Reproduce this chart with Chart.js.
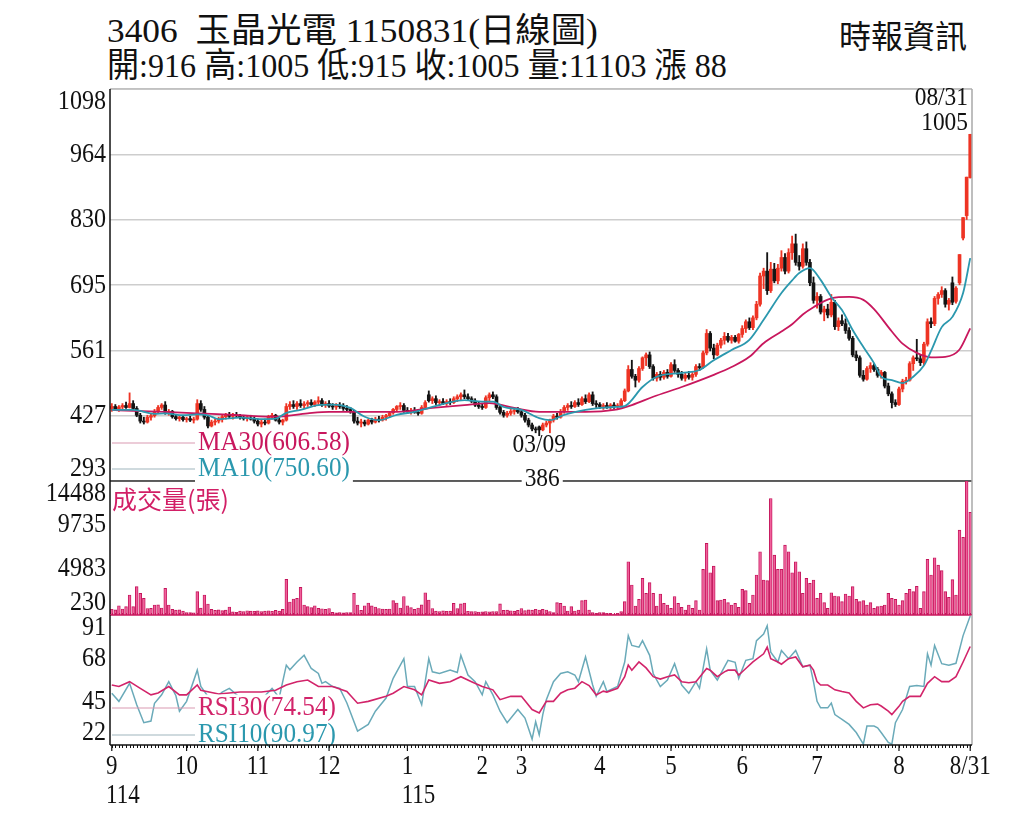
<!DOCTYPE html>
<html>
<head>
<meta charset="utf-8">
<script src="https://cdn.jsdelivr.net/npm/chart.js@4.4.1/dist/chart.umd.min.js"></script>
<style>
html, body { margin: 0; padding: 0; background: #fff; }
#wrap { position: relative; width: 1024px; height: 819px; overflow: hidden; background: #fff; }
canvas { position: absolute; left: 0; top: 0; }
.t { position: absolute; white-space: pre; font-family: "Liberation Serif", "Noto Sans CJK TC", serif; color: #111; transform-origin: 0 0; line-height: 1; }
</style>
</head>
<body>
<div id="wrap">
  <div class="t" id="t1" style="left:107px;top:14px;font-size:34px">3406  玉晶光電 1150831(日線圖)</div>
  <div class="t" id="t2" style="left:107px;top:49px;font-size:34px">開:916 高:1005 低:915 收:1005 量:11103 漲 88</div>
  <div class="t" id="t3" style="left:839px;top:21px;font-size:32px">時報資訊</div>
  <canvas id="cPrice" width="1024" height="819"></canvas>
  <canvas id="cVol" width="1024" height="819"></canvas>
  <canvas id="cRsi" width="1024" height="819"></canvas>
</div>
<script>
// daily candles, 114/09/01 .. 115/08/31 (index = trading day)
const openP = [
  442,446,440,445,448,444,452,442,428,416, 414,424,427,436,444,449,434,436,425,421,
  424,419,421,418,420,452,440,424,406,414, 416,420,425,428,426,429,427,423,421,422,
  420,416,410,414,412,424,428,418,414,418, 446,450,446,452,448,451,454,450,455,458,
  449,452,447,445,448,446,442,440,436,416, 412,414,410,418,414,420,418,424,427,433,
  440,446,448,438,436,438,434,432,444,470, 458,462,454,456,452,456,454,462,466,470,
  466,462,457,449,446,444,464,470,466,444, 434,428,432,436,438,435,428,418,408,400,
  404,398,408,412,418,426,424,436,444,448, 446,454,450,462,456,470,452,450,446,448,
  445,449,446,448,458,478,522,508,500,524, 546,552,528,504,512,506,516,508,532,520,
  512,504,510,506,512,528,526,556,596,566, 552,572,582,590,582,588,580,594,606,620,
  608,628,656,714,724,684,728,704,730,752, 724,762,780,742,734,770,742,700,664,672,
  640,646,634,660,610,622,616,602,586,552, 546,510,502,524,530,522,510,516,488,472,
  454,450,482,498,500,534,546,544,536,574, 620,616,668,676,684,656,700,662,700,792,
  838,916
];
const highP = [
  452,450,448,452,455,474,458,446,432,424, 428,430,440,448,452,456,440,438,430,428,
  428,424,426,424,460,458,446,426,418,420, 424,428,432,434,432,434,430,428,426,428,
  424,420,418,420,428,432,430,422,420,452, 456,458,456,460,456,458,460,458,466,462,
  456,458,452,452,454,452,448,444,438,424, 420,418,420,422,424,426,428,430,436,442,
  448,454,452,444,442,444,440,448,458,478, 466,468,460,462,460,462,466,470,474,480,
  472,466,462,456,452,468,474,476,470,450, 438,436,440,442,444,440,432,422,412,404,
  406,412,416,420,430,432,440,448,452,456, 458,462,466,470,474,476,458,454,452,454,
  452,454,452,462,482,530,541,512,528,548, 556,558,532,516,518,520,522,536,542,524,
  518,514,518,516,532,534,560,604,600,574, 576,586,598,596,592,592,596,612,624,628,
  632,662,720,730,762,742,740,738,766,760, 770,796,800,756,780,784,748,712,680,676,
  652,656,676,664,628,634,626,608,590,560, 550,520,528,536,534,526,520,518,494,476,
  460,486,502,506,538,550,584,552,578,626, 628,672,680,692,688,668,712,692,758,834,
  917,1005
];
const lowP = [
  436,438,436,440,442,443,440,425,412,410, 412,418,424,432,440,430,428,422,418,416,
  416,414,415,412,418,436,420,402,404,408, 412,414,420,422,420,424,420,418,416,418,
  412,406,404,408,410,420,416,410,408,416, 440,442,440,444,442,446,448,446,450,446,
  444,444,440,440,442,438,436,432,412,408, 404,406,408,410,412,414,416,418,424,430,
  436,440,434,432,430,432,428,430,440,455, 452,450,448,450,448,450,452,456,460,462,
  458,454,446,442,440,442,458,462,440,430, 424,424,428,430,432,424,414,404,396,392,
  386,396,404,392,414,420,422,432,438,442, 444,446,448,452,454,448,444,442,440,442,
  440,442,440,446,456,476,504,486,496,520, 530,524,500,498,500,502,504,506,516,506,
  500,498,502,500,508,520,524,552,560,544, 550,566,574,578,576,578,576,588,598,604,
  604,624,652,688,676,680,700,698,724,718, 720,748,736,726,730,736,694,658,648,636,
  622,628,630,604,602,612,596,582,548,540, 506,498,500,516,518,506,504,484,468,443,
  446,448,476,492,498,520,540,530,532,570, 608,612,656,670,650,644,655,658,696,788,
  830,915
];
const closeP = [
  446,440,445,448,444,452,442,428,416,414, 424,427,436,444,449,434,436,425,421,424,
  419,421,418,420,452,440,424,406,414,416, 420,425,428,426,429,427,423,421,422,420,
  416,410,414,412,424,428,418,414,418,446, 450,446,452,448,451,454,450,455,458,449,
  452,447,445,448,446,442,440,436,416,412, 414,410,418,414,420,418,424,427,433,440,
  446,448,438,436,438,434,432,444,454,458, 462,454,456,452,456,454,462,466,470,466,
  462,457,449,446,444,464,470,466,444,434, 428,432,436,438,435,428,418,408,400,398,
  398,408,412,418,426,424,436,444,448,446, 454,450,462,456,470,452,450,446,448,445,
  449,446,448,458,478,522,508,500,524,546, 552,528,504,512,506,516,508,532,520,512,
  504,510,506,512,528,526,556,596,566,552, 572,582,590,582,588,580,594,606,620,608,
  628,656,714,724,684,728,704,730,752,724, 762,780,742,734,770,742,700,664,672,640,
  646,634,660,610,622,616,602,586,552,546, 510,502,524,530,522,510,516,488,472,454,
  450,482,498,500,534,546,544,536,574,620, 616,668,676,684,656,664,660,689,758,834,
  917,1005
];
const volume = [
  620,560,1000,650,900,2160,900,3060,2340,1800, 700,720,1080,1100,760,2880,1080,600,520,560,
  420,250,260,240,2520,750,2160,1190,600,500, 560,480,520,860,330,300,420,380,460,420,
  400,440,380,420,460,400,500,420,600,3850, 1400,1730,1800,2980,1080,900,800,1000,720,680,
  600,700,280,240,260,230,250,260,2340,1080, 500,1000,1300,980,860,700,650,600,650,1550,
  1300,760,2000,1000,800,600,760,1100,2410,1620, 700,420,380,450,400,420,1250,700,1200,1300,
  400,360,380,320,340,380,350,360,380,1200, 500,520,460,420,500,700,480,560,520,620,
  540,610,540,360,250,1330,1260,970,430,900, 430,540,1550,1620,540,250,180,250,250,180,
  180,110,180,360,1440,5760,3240,970,1690,3960, 2340,3500,2340,970,2270,1260,1080,720,2000,1260,
  830,540,1080,720,1550,540,4930,7740,4570,5290, 1550,1620,1690,1330,1080,1260,830,2770,2630,1260,
  2160,4320,6840,3780,3710,12600,6480,4930,4930,7560, 6840,4570,5760,4680,2340,3960,3420,3780,1800,2340,
  1330,720,2410,2050,2000,1440,2270,2050,3060,1690, 1440,1550,1080,1330,720,900,970,1080,2340,1800,
  1690,1080,1550,2340,2770,2520,3100,720,2520,6010, 4320,6190,5400,4790,2520,1910,3820,2160,9180,8390,
  14488,11103
];

// moving averages (day index -> value)
const ma10Day = [0,6,12,15,20,24,27,30,36,42,46,49,53,58,62,67,71,75,80,85,90,94,99,104,107,110,115,120,123,127,133,137,141,144,149,153,160,165,169,174,179,183,188,191,193,196,199,202,205,208,211,214,216,219,222,225,228,230,233,236,239,241];
const ma10Val = [439,439,431,432,428,430,428,420,423,420,421,433,439,449,450,443,425,418,429,435,445,453,459,456,456,445,439,422,418,429,439,443,445,447,486,507,515,521,541,562,583,624,679,705,720,730,706,671,644,603,568,535,507,500,494,507,530,560,609,630,679,750.60];
const ma30Day = [0,6,15,24,36,46,55,61,71,80,90,99,106,113,120,127,133,141,146,152,160,169,174,179,183,188,191,194,197,202,207,211,214,219,222,226,230,234,238,241];
const ma30Val = [439,437,435,432,428,425,432,435,435,435,443,449,453,443,435,435,435,439,449,466,486,511,527,548,576,600,615,635,650,668,671,665,646,600,575,556,547,548,563,606.58];

// RSI
const rsi30Day = [0,2,5,8,11,13,16,19,21,24,25,30,36,42,46,49,52,55,58,62,66,69,72,77,79,82,85,87,89,92,95,98,101,104,107,109,112,115,118,120,122,124,126,128,130,132,134,136,138,139,142,144,145,146,148,150,152,154,156,158,160,162,164,167,168,170,172,173,175,176,178,180,183,184,185,187,188,190,192,194,196,197,198,199,201,203,205,207,209,211,213,215,216,218,219,221,222,224,227,229,231,233,235,237,239,241];
const rsi30Val = [53.8,53,55.6,52,48.5,49.5,53,48.5,48.5,53.8,51,49,50,50,51,53.8,55.6,56.5,53,53,50.3,44,45,47.7,49.4,53,51.2,48.5,56.5,54.7,55.6,58.3,55.6,53,51.2,45.9,47.7,47.7,40.6,38.8,45,45,49.4,51.2,52.1,55.6,53.5,48.5,50.5,50,52,58.3,64.5,61.8,66.2,63,58.3,57,58.3,59.2,55.6,55,55.6,62.7,61.8,58.3,60.9,61.8,61.8,59.2,62.7,66.2,70.6,74.2,68,66.2,65,68,68.9,63.6,64.5,61.8,55.6,53.8,53.8,51.2,50.3,49.5,45,41.5,43.2,43.5,42.5,39.7,37.9,42.3,45,47.7,47.7,54.7,58.3,55.6,55.6,58.3,66.2,74.54];
const rsi10Day = [0,2,5,7,9,11,12,14,16,18,19,21,24,25,28,31,33,36,40,43,45,47,49,50,52,54,56,58,59,60,62,64,66,69,72,74,77,79,82,83,85,87,89,90,92,95,97,98,100,102,104,105,107,109,111,114,116,118,119,120,121,122,124,126,128,130,131,133,135,136,138,139,142,144,145,146,148,149,151,152,154,156,158,160,162,164,165,167,168,170,172,173,175,176,178,180,181,183,184,185,187,188,190,192,194,196,197,198,199,201,202,203,205,207,209,211,212,214,215,216,218,219,220,222,224,226,228,229,230,231,233,235,237,239,241];
const rsi10Val = [49.4,45,54.7,43.2,33.5,34.4,44,48.5,55.6,48,39.7,45,61.8,53,45,50,52,47,44,48,52,47,64.5,62,66.2,69.8,62.7,60,54.7,55.6,53,52,44.1,29,32.6,39.7,46.8,57.4,68,53,53,43.2,68,60.9,60,61.8,60.5,69.8,59.2,55.6,48.5,55.6,48.5,39.7,33.5,40.6,36,24.7,34,27,37.9,45.9,55.6,60,60.9,59.2,55.6,68.9,53.8,47.7,55.6,50.3,53,66.2,80.4,75.1,74.2,77.7,69.8,60,53,56.5,65.3,53.8,49.4,55.6,52,73.3,61.8,56.5,63.6,67.1,66,57.4,67.1,68,77.7,81.3,85.7,71.5,66.2,72.4,68,72.4,63.6,64.5,55.6,45,41.5,41.5,44.1,37.9,35.3,32.6,28.2,22,31.7,31.7,30.8,28.2,22.9,22,33.5,40.6,53,53.5,53,70.6,64.5,75.1,65.3,64.5,65.5,80.4,90.97];

// axes
const priceTicks = [293, 427, 561, 695, 830, 964, 1098];
const volTicks = [230, 4983, 9735, 14488];
const rsiTicks = [22, 45, 68, 91];
const monthIdx = [0, 21, 41, 61, 83, 104, 115, 137, 157, 177, 198, 221, 241];
const monthLbl = ['9', '10', '11', '12', '1', '2', '3', '4', '5', '6', '7', '8', '8/31'];
const yearIdx = [0, 83];
const yearLbl = ['114', '115'];
const lowDay = 120, lowDate = '03/09';
const lastDate = '08/31';

const UP = '#ee3424', DOWN = '#141414';
const MA30C = '#c8175d', MA10C = '#2b98ae';
const RSI30C = '#d2246a', RSI10C = '#6aaab9';
const VOL_FILL = '#f0609b', VOL_EDGE = '#c3145a';
const AX_FONT = '28px "Liberation Serif"';
const LEG_FONT = '28px "Liberation Serif"';

const days = closeP.map((_, i) => i);
const isUp = i => closeP[i] >= openP[i];
const pts = (xs, ys) => xs.map((x, k) => ({ x: x, y: ys[k] }));

function fit(id, w) {
  const el = document.getElementById(id);
  el.style.transform = 'scaleX(' + (w / el.offsetWidth) + ')';
}
fit('t1', 491);
fit('t2', 620);

function txt(ctx, s, x, y, o) {
  ctx.save();
  ctx.font = o.font;
  const sx = o.sx || 1;
  const w = ctx.measureText(s).width * sx;
  const left = o.align === 'right' ? x - w : (o.align === 'center' ? x - w / 2 : x);
  if (o.bg) {
    ctx.fillStyle = '#fff';
    ctx.fillRect(left - 3, y - o.bg / 2, w + 6, o.bg);
  }
  ctx.fillStyle = o.color || '#111';
  ctx.textBaseline = 'middle';
  ctx.textAlign = 'left';
  ctx.translate(left, y);
  ctx.scale(sx, 1);
  ctx.fillText(s, 0, 0);
  ctx.restore();
  return w;
}

function line(ctx, x1, y1, x2, y2, color, w) {
  ctx.save();
  ctx.strokeStyle = color;
  ctx.lineWidth = w;
  ctx.beginPath();
  ctx.moveTo(x1, y1);
  ctx.lineTo(x2, y2);
  ctx.stroke();
  ctx.restore();
}

function yLabels(ch, ticks) {
  const s = ch.scales.y, a = ch.chartArea;
  ticks.forEach(v => {
    let y = s.getPixelForValue(v);
    y = Math.max(a.top + 13, Math.min(a.bottom - 12, y));
    txt(ch.ctx, String(v), 106, y, { font: AX_FONT, sx: 0.86, align: 'right' });
  });
}

function legendItem(ctx, label, y, color, sample) {
  line(ctx, 112, y, 196, y, sample, 1.2);
  txt(ctx, label, 198, y, { font: LEG_FONT, sx: 0.9, color: color, bg: 27 });
}

function frame(ch, leftColor) {
  const a = ch.chartArea, ctx = ch.ctx;
  line(ctx, a.right, a.top, a.right, a.bottom, '#a8a8a8', 1.5);
  line(ctx, a.left, a.top, a.left, a.bottom, leftColor, 1.5);
}

const xScale = { type: 'linear', min: -0.5, max: 241.5, offset: false, display: false };

function opts(top, bottom, y) {
  return {
    responsive: false,
    animation: false,
    events: [],
    layout: { padding: { left: 110, right: 52, top: top, bottom: bottom } },
    plugins: { legend: { display: false }, tooltip: { enabled: false } },
    scales: { x: xScale, y: y }
  };
}

// price panel
new Chart(document.getElementById('cPrice'), {
  type: 'bar',
  data: {
    datasets: [
      {
        type: 'bar', order: 3, grouped: false, barThickness: 1.2,
        data: days.map(i => ({ x: i, y: [lowP[i], highP[i]] })),
        backgroundColor: c => isUp(c.dataIndex) ? UP : DOWN
      },
      {
        type: 'bar', order: 2, grouped: false, barThickness: 3, minBarLength: 1,
        data: days.map(i => ({ x: i, y: [Math.min(openP[i], closeP[i]), Math.max(openP[i], closeP[i])] })),
        backgroundColor: c => isUp(c.dataIndex) ? UP : DOWN
      },
      {
        type: 'line', order: 1, data: pts(ma30Day, ma30Val),
        borderColor: MA30C, borderWidth: 1.8, pointRadius: 0, cubicInterpolationMode: 'monotone'
      },
      {
        type: 'line', order: 0, data: pts(ma10Day, ma10Val),
        borderColor: MA10C, borderWidth: 1.8, pointRadius: 0, cubicInterpolationMode: 'monotone'
      }
    ]
  },
  options: opts(89, 819 - 481, {
    min: 293, max: 1098,
    afterBuildTicks: s => { s.ticks = priceTicks.map(v => ({ value: v })); },
    afterFit: s => { s.width = 0; },
    ticks: { display: false },
    grid: { color: '#cdcdcd', lineWidth: 1.5, drawTicks: false },
    border: { display: false }
  }),
  plugins: [{
    id: 'pricePanel',
    afterDraw(ch) {
      const ctx = ch.ctx, a = ch.chartArea;
      line(ctx, a.left, a.top, a.right, a.top, '#bdbdbd', 1.5);
      line(ctx, a.left, a.bottom, a.right, a.bottom, '#333', 1.5);
      frame(ch, '#111');
      legendItem(ctx, 'MA30(' + ma30Val[ma30Val.length - 1].toFixed(2) + ')', 443, MA30C, '#d99ab2');
      legendItem(ctx, 'MA10(' + ma10Val[ma10Val.length - 1].toFixed(2) + ')', 469, MA10C, '#9fb6be');
      const xl = ch.scales.x.getPixelForValue(lowDay);
      txt(ctx, lowDate, xl, 445, { font: '26px "Liberation Serif"', sx: 0.9, align: 'center' });
      txt(ctx, String(lowP[lowDay]), xl + 3, 479, { font: '26px "Liberation Serif"', sx: 0.9, align: 'center', bg: 24 });
      const last = closeP.length - 1;
      txt(ctx, lastDate, 968, 98, { font: '26px "Liberation Serif"', sx: 0.9, align: 'right' });
      txt(ctx, String(closeP[last]), 968, 123, { font: '26px "Liberation Serif"', sx: 0.9, align: 'right' });
      yLabels(ch, priceTicks);
    }
  }]
});

// volume panel
new Chart(document.getElementById('cVol'), {
  type: 'bar',
  data: {
    datasets: [{
      type: 'bar', grouped: false, barThickness: 2.8,
      data: days.map(i => ({ x: i, y: volume[i] })),
      backgroundColor: VOL_FILL,
      borderColor: VOL_EDGE,
      borderWidth: { left: 0.9, right: 0.9, top: 0.9, bottom: 0 },
      borderSkipped: 'bottom'
    }]
  },
  options: opts(481, 819 - 615, { min: 0, max: 14488, display: false }),
  plugins: [{
    id: 'volPanel',
    afterDraw(ch) {
      const ctx = ch.ctx, a = ch.chartArea, xs = ch.scales.x;
      frame(ch, '#111');
      line(ctx, a.left, a.bottom, a.right, a.bottom, '#c8175d', 1.5);
      days.forEach(i => {
        const x = Math.round(xs.getPixelForValue(i)) + 0.5;
        line(ctx, x, a.bottom, x, a.bottom - 2, '#c8175d', 1);
      });
      txt(ctx, '成交量(張)', 112, 499, { font: '25px "Noto Sans CJK TC"', color: '#d21f66' });
      yLabels(ch, volTicks);
    }
  }]
});

// RSI panel
new Chart(document.getElementById('cRsi'), {
  type: 'line',
  data: {
    datasets: [
      { data: pts(rsi30Day, rsi30Val), borderColor: RSI30C, borderWidth: 1.6, pointRadius: 0, tension: 0, order: 0 },
      { data: pts(rsi10Day, rsi10Val), borderColor: RSI10C, borderWidth: 1.5, pointRadius: 0, tension: 0, order: 1 }
    ]
  },
  options: opts(615, 819 - 745, { min: 21.5, max: 91.5, display: false }),
  plugins: [{
    id: 'rsiPanel',
    afterDraw(ch) {
      const ctx = ch.ctx, a = ch.chartArea, xs = ch.scales.x;
      frame(ch, '#111');
      legendItem(ctx, 'RSI30(' + rsi30Val[rsi30Val.length - 1].toFixed(2) + ')', 708, RSI30C, '#d99ab2');
      legendItem(ctx, 'RSI10(' + rsi10Val[rsi10Val.length - 1].toFixed(2) + ')', 735, '#2b98ae', '#9fb6be');
      line(ctx, a.left, a.bottom, a.right, a.bottom, '#111', 1.5);
      days.forEach(i => {
        const x = Math.round(xs.getPixelForValue(i)) + 0.5;
        line(ctx, x, a.bottom, x, a.bottom + 3, '#111', 1);
      });
      monthIdx.forEach((d, k) => {
        const x = xs.getPixelForValue(d);
        line(ctx, x, a.bottom, x, a.bottom + 6, '#111', 1.2);
        const w = txt(ctx, monthLbl[k], x, 767, { font: AX_FONT, sx: 0.82, align: 'center' });
        const yi = yearIdx.indexOf(d);
        if (yi >= 0) txt(ctx, yearLbl[yi], x - w / 2, 796, { font: AX_FONT, sx: 0.82 });
      });
      yLabels(ch, rsiTicks);
    }
  }]
});
</script>
</body>
</html>
